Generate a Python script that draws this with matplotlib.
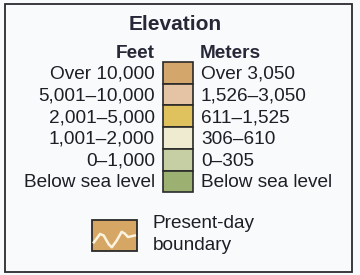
import matplotlib
matplotlib.use('Agg')
from matplotlib import pyplot as plt
from matplotlib.patches import Rectangle

plt.rcParams['font.family'] = ['Liberation Sans', 'DejaVu Sans']

feet = ['Over 10,000', '5,001–10,000', '2,001–5,000', '1,001–2,000', '0–1,000', 'Below sea level']
meters = ['Over 3,050', '1,526–3,050', '611–1,525', '306–610', '0–305', 'Below sea level']
colors = ['#d3a66c', '#e5c4a6', '#dfc25e', '#eeebd0', '#c6cfa3', '#9cb072']
# wavy boundary line inside the small swatch, as fractions of the swatch
wave_x = [0.04, 0.18, 0.26, 0.37, 0.44, 0.55, 0.66, 0.73, 0.80, 0.95]
wave_y = [0.72, 0.45, 0.50, 0.78, 0.88, 0.66, 0.38, 0.44, 0.55, 0.50]

fig = plt.figure(figsize=(3.6, 2.75), dpi=100)
ax = fig.add_axes([0, 0, 1, 1])
ax.set_xlim(0, 360)
ax.set_ylim(275, 0)
ax.axis('off')
fig.patch.set_facecolor('#f9fafb')

# outer box
ax.add_patch(Rectangle((5, 4), 347, 268, fill=False, ec='#2a2a30', lw=1.3))

ax.text(175, 25, 'Elevation', ha='center', va='center', fontsize=15,
        fontweight='bold', color='#262838')
ax.text(155, 53, 'Feet', ha='right', va='center', fontsize=13.7,
        fontweight='bold', color='#262838')
ax.text(200, 53, 'Meters', ha='left', va='center', fontsize=13.7,
        fontweight='bold', color='#262838')

top = 62
h = 21.7
for i, (f, m, c) in enumerate(zip(feet, meters, colors)):
    y = top + i * h
    ax.add_patch(Rectangle((163, y), 30, h, fc=c, ec='#2a2a2a', lw=1.2))
    ax.text(155, y + h / 2 + 1.5, f, ha='right', va='center', fontsize=13.7, color='#1e1e26')
    ax.text(201, y + h / 2 + 1.5, m, ha='left', va='center', fontsize=13.7, color='#1e1e26')

# present-day boundary symbol
bx, by, bw, bh = 92, 220, 45, 31
ax.add_patch(Rectangle((bx, by), bw, bh, fc='#d6a764', ec='#2a2a2a', lw=1.3))
ax.plot([bx + v * bw for v in wave_x], [by + v * bh for v in wave_y],
        color='#faf3e0', lw=1.8)
ax.text(153, 224, 'Present-day', ha='left', va='center', fontsize=13.7, color='#1e1e26')
ax.text(153, 245, 'boundary', ha='left', va='center', fontsize=13.7, color='#1e1e26')

fig.savefig('out.png', dpi=100, facecolor=fig.get_facecolor())
